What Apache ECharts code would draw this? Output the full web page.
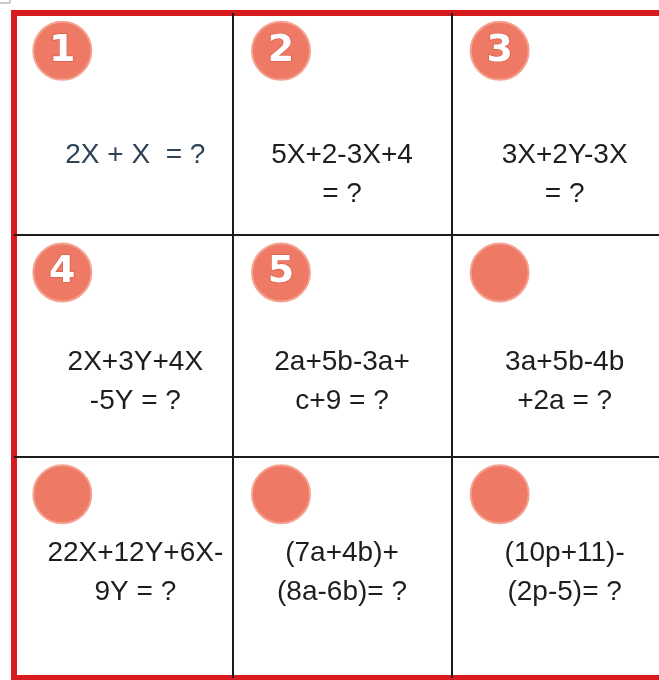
<!DOCTYPE html>
<html lang="en">
<head>
    <meta charset="UTF-8">
    <title>Worksheet</title>
    <script src="https://cdn.jsdelivr.net/npm/echarts@6/dist/echarts.min.js"></script>
    <style>
        html, body { margin: 0; padding: 0; background: #fff; overflow: hidden; }
    </style>
</head>
<body>
    <!-- the table runs a little past the right edge of the window -->
    <div id="main" style="width: 672px;height: 680px;"></div>
    <script>
        // 3x3 grid of exercises, read left to right, top to bottom
        var problems = [
            '2X + X  = ?',
            '5X+2-3X+4\n= ?',
            '3X+2Y-3X\n= ?',
            '2X+3Y+4X\n-5Y = ?',
            '2a+5b-3a+\nc+9 = ?',
            '3a+5b-4b\n+2a = ?',
            '22X+12Y+6X-\n9Y = ?',
            '(7a+4b)+\n(8a-6b)= ?',
            '(10p+11)-\n(2p-5)= ?'
        ];
        var badges = ['1', '2', '3', '4', '5', '', '', '', ''];

        // small nudges of the text inside each column / row (px)
        var colShift = [12, 0, 4];
        var rowShift = [12, -3, -33];

        var cellData = [];
        var badgeData = [];
        for (var i = 0; i < problems.length; i++) {
            var col = i % 3;
            var row = Math.floor(i / 3);
            cellData.push({
                value: [col + 0.5, row + 0.5],
                name: problems[i],
                label: {
                    offset: [colShift[col], rowShift[row]],
                    color: i === 0 ? '#2e4358' : '#1e1e1e'
                }
            });
            badgeData.push({ value: [col + 0.5, row + 0.5], name: badges[i] });
        }

        var chart = echarts.init(document.getElementById('main'));
        var option = {
            backgroundColor: '#fff',
            animation: false,
            grid: {
                left: 14,
                top: 13,
                right: 2,
                bottom: 2,
                show: true,
                backgroundColor: '#fff',
                borderColor: '#d71a1e',
                borderWidth: 6
            },
            xAxis: {
                type: 'value',
                min: 0, max: 3, interval: 1,
                axisLine: { show: false },
                axisTick: { show: false },
                axisLabel: { show: false },
                splitLine: {
                    show: true, showMinLine: false, showMaxLine: false,
                    lineStyle: { color: '#1c1c1c', width: 2 }
                }
            },
            yAxis: {
                type: 'value',
                inverse: true,
                min: 0, max: 3, interval: 1,
                axisLine: { show: false },
                axisTick: { show: false },
                axisLabel: { show: false },
                splitLine: {
                    show: true, showMinLine: false, showMaxLine: false,
                    lineStyle: { color: '#1c1c1c', width: 2 }
                }
            },
            graphic: [{
                type: 'polyline',
                shape: { points: [[0, 3], [10, 3], [10, 0]] },
                style: { stroke: '#999', lineWidth: 1, fill: null }
            }],
            series: [{
                type: 'scatter',
                name: 'badges',
                symbol: 'circle',
                symbolSize: 58,
                symbolOffset: [-61, -73],
                itemStyle: {
                    color: '#ee7a65',
                    borderColor: '#f4a291',
                    borderWidth: 2,
                    opacity: 1
                },
                label: {
                    show: true,
                    position: 'inside',
                    formatter: '{b}',
                    color: '#fff',
                    fontFamily: 'DejaVu Sans',
                    fontWeight: 'bold',
                    fontSize: 38,
                    textBorderColor: '#d9604c',
                    textBorderWidth: 1.5
                },
                data: badgeData
            }, {
                type: 'scatter',
                name: 'problems',
                symbolSize: 1,
                itemStyle: { color: 'rgba(0,0,0,0)', opacity: 1 },
                label: {
                    show: true,
                    position: 'inside',
                    formatter: '{b}',
                    align: 'center',
                    verticalAlign: 'top',
                    fontFamily: 'Liberation Sans',
                    fontSize: 28,
                    lineHeight: 39
                },
                data: cellData
            }]
        };
        chart.setOption(option);
    </script>
</body>
</html>
